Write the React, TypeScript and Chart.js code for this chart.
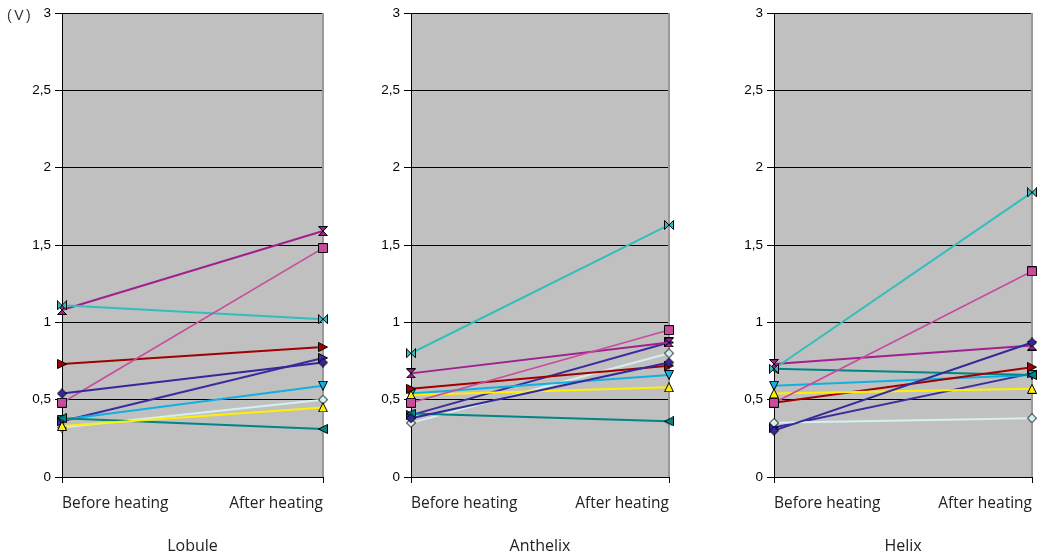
import React, { useEffect, useRef } from 'react';
import { Chart, registerables } from 'chart.js';

Chart.register(...registerables);

const categories = ['Before heating', 'After heating'];
const panelTitles = ['Lobule', 'Anthelix', 'Helix'];
const yTickLabels = ['0', '0,5', '1', '1,5', '2', '2,5', '3'];
const unitLabel = '(V)';

// each row: [before heating, after heating] for one sample series
const lobuleValues = [
  [0.54, 0.74],
  [0.48, 1.48],
  [0.33, 0.45],
  [1.11, 1.02],
  [1.08, 1.59],
  [0.73, 0.84],
  [0.38, 0.31],
  [0.37, 0.59],
  [0.32, 0.5],
  [0.36, 0.77],
];
const anthelixValues = [
  [0.38, 0.74],
  [0.48, 0.95],
  [0.53, 0.58],
  [0.8, 1.63],
  [0.67, 0.87],
  [0.57, 0.72],
  [0.41, 0.36],
  [0.54, 0.66],
  [0.35, 0.8],
  [0.4, 0.87],
];
const helixValues = [
  [0.3, 0.87],
  [0.48, 1.33],
  [0.54, 0.57],
  [0.7, 1.84],
  [0.73, 0.85],
  [0.48, 0.71],
  [0.7, 0.66],
  [0.59, 0.66],
  [0.35, 0.38],
  [0.32, 0.67],
];

// styles (kept apart from data)
const seriesColors = [
  '#33299a', '#c84b9c', '#fff000', '#33bdbd', '#a0208f',
  '#a00000', '#008585', '#10b0e0', '#d4f0f0', '#3d2c9e',
];
const seriesShapes = [
  'diamond', 'square', 'triUp', 'bowtie', 'hourglass',
  'triRight', 'triLeft', 'triDown', 'diamond', 'triRight',
];
const seriesWidths = [2, 1.6, 2, 2, 2, 2, 2, 2, 2, 2];

function makeMarker(shape: string, fill: string): HTMLCanvasElement {
  const s = 10;
  const c = document.createElement('canvas');
  c.width = s;
  c.height = s;
  const ctx = c.getContext('2d')!;
  const a = 0.5, b = s - 0.5, m = s / 2;
  ctx.beginPath();
  switch (shape) {
    case 'diamond':
      ctx.moveTo(m, a); ctx.lineTo(b, m); ctx.lineTo(m, b); ctx.lineTo(a, m); ctx.closePath();
      break;
    case 'square':
      ctx.rect(a, a, b - a, b - a);
      break;
    case 'triUp':
      ctx.moveTo(m, a); ctx.lineTo(b, b); ctx.lineTo(a, b); ctx.closePath();
      break;
    case 'triDown':
      ctx.moveTo(a, a); ctx.lineTo(b, a); ctx.lineTo(m, b); ctx.closePath();
      break;
    case 'triRight':
      ctx.moveTo(a, a); ctx.lineTo(b, m); ctx.lineTo(a, b); ctx.closePath();
      break;
    case 'triLeft':
      ctx.moveTo(b, a); ctx.lineTo(a, m); ctx.lineTo(b, b); ctx.closePath();
      break;
    case 'bowtie':
      ctx.moveTo(a, a); ctx.lineTo(m, m); ctx.lineTo(a, b); ctx.closePath();
      ctx.moveTo(b, a); ctx.lineTo(m, m); ctx.lineTo(b, b); ctx.closePath();
      break;
    case 'hourglass':
      ctx.moveTo(a, a); ctx.lineTo(b, a); ctx.lineTo(m, m); ctx.closePath();
      ctx.moveTo(a, b); ctx.lineTo(b, b); ctx.lineTo(m, m); ctx.closePath();
      break;
  }
  ctx.fillStyle = fill;
  ctx.fill();
  ctx.strokeStyle = '#000';
  ctx.lineWidth = 1;
  ctx.stroke();
  return c;
}

const plotBackground = {
  id: 'plotBackground',
  beforeDraw(chart: any) {
    const { ctx, chartArea } = chart;
    ctx.save();
    ctx.fillStyle = '#c0c0c0';
    ctx.fillRect(chartArea.left, chartArea.top, chartArea.right - chartArea.left, chartArea.bottom - chartArea.top);
    ctx.restore();
  },
  beforeDatasetsDraw(chart: any) {
    const { ctx, chartArea } = chart;
    ctx.save();
    ctx.strokeStyle = '#9a9a9a';
    ctx.lineWidth = 2;
    ctx.beginPath();
    ctx.moveTo(chartArea.right, chartArea.top);
    ctx.lineTo(chartArea.right, chartArea.bottom);
    ctx.stroke();
    ctx.restore();
  },
};

type PanelProps = {
  values: number[][];
  title: string;
  left: number;
  width: number;
  padRight: number;
};

function Panel({ values, title, left, width, padRight }: PanelProps) {
  const ref = useRef<HTMLCanvasElement | null>(null);
  useEffect(() => {
    if (!ref.current) return;
    const chart = new Chart(ref.current, {
      type: 'line',
      data: {
        labels: categories,
        datasets: values.map((pair, i) => ({
          label: 'S' + (i + 1),
          data: pair,
          borderColor: seriesColors[i],
          backgroundColor: seriesColors[i],
          borderWidth: seriesWidths[i],
          pointStyle: makeMarker(seriesShapes[i], seriesColors[i]) as any,
          pointRadius: 5,
          pointHoverRadius: 5,
          tension: 0,
          clip: false as any,
        })),
      },
      options: {
        animation: false,
        responsive: false,
        devicePixelRatio: 1,
        events: [],
        layout: { padding: { top: 13, right: padRight, bottom: 0, left: 0 } },
        plugins: {
          legend: { display: false },
          tooltip: { enabled: false },
          title: { display: false },
        },
        scales: {
          x: {
            type: 'category',
            offset: false,
            grid: {
              drawOnChartArea: false,
              drawTicks: true,
              tickLength: 6,
              tickColor: '#000',
              color: '#000',
            },
            border: { color: '#000', width: 1 },
            ticks: {
              align: 'inner',
              maxRotation: 0,
              autoSkip: false,
              padding: 11,
              color: '#222',
              font: { family: '"Open Sans", sans-serif', size: 15.5 },
            },
            title: {
              display: true,
              text: title,
              color: '#222',
              font: { family: '"Open Sans", sans-serif', size: 16 },
              padding: { top: 0, bottom: -1 },
            },
            afterFit(scale: any) {
              scale.height = 78;
            },
          },
          y: {
            min: 0,
            max: 3,
            grid: { color: '#000', lineWidth: 1, tickLength: 7, tickColor: '#000' },
            border: { color: '#000', width: 1 },
            ticks: {
              stepSize: 0.5,
              padding: 4,
              color: '#000',
              font: { family: '"Liberation Sans", Arial, sans-serif', size: 13.5 },
              callback: (_v: any, i: number) => yTickLabels[i],
            },
            afterFit(scale: any) {
              scale.width = 62;
            },
          },
        },
      } as any,
      plugins: [plotBackground],
    });
    return () => chart.destroy();
  }, [values, title, padRight]);
  return (
    <canvas
      ref={ref}
      width={width}
      height={555}
      style={{ position: 'absolute', left, top: 0, width, height: 555 }}
    />
  );
}

export default function App() {
  return (
    <div style={{ position: 'absolute', left: 0, top: 0, width: 1043, height: 555, background: '#fff' }}>
      <Panel values={lobuleValues} title={panelTitles[0]} left={0} width={345} padRight={22} />
      <Panel values={anthelixValues} title={panelTitles[1]} left={349} width={342} padRight={22} />
      <Panel values={helixValues} title={panelTitles[2]} left={712} width={331} padRight={10} />
      <div
        style={{
          position: 'absolute',
          left: 7,
          top: 7,
          font: '14px "Liberation Sans", Arial, sans-serif',
          letterSpacing: 2.5,
          color: '#333',
          lineHeight: '16px',
        }}
      >
        {unitLabel}
      </div>
    </div>
  );
}
